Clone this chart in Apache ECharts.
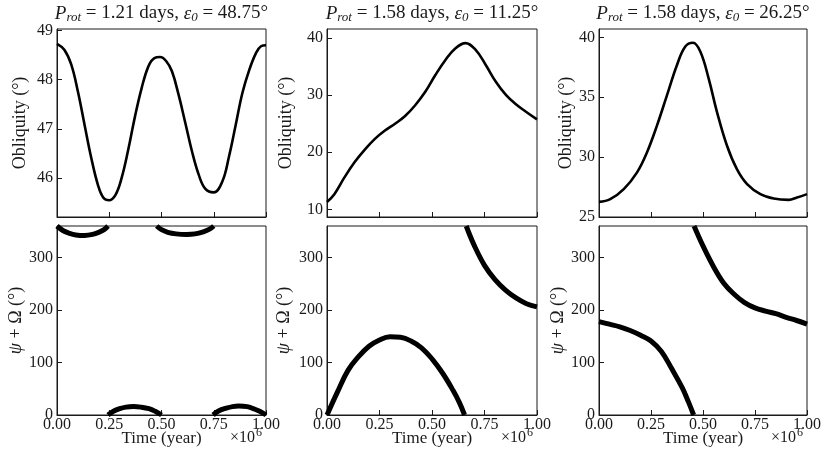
<!DOCTYPE html>
<html>
<head>
<meta charset="utf-8">
<script src="https://cdn.jsdelivr.net/npm/echarts@6/dist/echarts.min.js"></script>
<style>
  html, body { margin: 0; padding: 0; background: #fff; }
  #main { width: 830px; height: 466px; }
</style>
</head>
<body>
<div id="main"></div>
<script>
// time in units of 1e6 years
var timeTicks = [0, 0.25, 0.5, 0.75, 1];

// column titles
var titles = [
  '{i|P}{s|rot}{n| = 1.21 days, }{i|ε}{s|0}{n| = 48.75°}',
  '{i|P}{s|rot}{n| = 1.58 days, }{i|ε}{s|0}{n| = 11.25°}',
  '{i|P}{s|rot}{n| = 1.58 days, }{i|ε}{s|0}{n| = 26.25°}'
];

// obliquity (deg)
var obl1 = [[0,48.73],[0.035,48.61],[0.068,48.31],[0.1,47.76],[0.132,47.08],[0.164,46.41],[0.196,45.86],
  [0.222,45.6],[0.249,45.55],[0.28,45.66],[0.309,46.0],[0.341,46.58],[0.373,47.25],[0.405,47.83],
  [0.437,48.27],[0.466,48.44],[0.493,48.46],[0.522,48.38],[0.55,48.17],[0.582,47.69],[0.614,47.12],
  [0.646,46.54],[0.678,46.07],[0.71,45.78],[0.75,45.71],[0.791,45.93],[0.823,46.44],[0.855,47.08],
  [0.887,47.73],[0.92,48.2],[0.952,48.54],[0.976,48.68],[1,48.7]];
var obl2 = [[0,11.29],[0.035,12.65],[0.083,15.59],[0.131,18.24],[0.18,20.47],[0.228,22.35],[0.276,23.82],
  [0.324,25.0],[0.372,26.35],[0.42,28.24],[0.468,30.59],[0.516,33.53],[0.564,36.18],[0.612,38.24],
  [0.66,39.12],[0.708,37.94],[0.756,35.29],[0.804,32.35],[0.853,30.0],[0.901,28.35],[0.949,27.06],[1,25.76]];
var obl3 = [[0,26.26],[0.054,26.49],[0.119,27.33],[0.183,28.73],[0.231,30.41],[0.279,32.65],[0.327,35.18],
  [0.375,37.7],[0.415,39.24],[0.452,39.55],[0.487,38.82],[0.527,36.58],[0.567,33.78],[0.615,30.97],
  [0.663,29.0],[0.712,27.75],[0.776,26.91],[0.84,26.54],[0.912,26.43],[0.952,26.63],[1,26.91]];

// psi + Omega (deg), wrapped into 0..360, one array per visible branch
var psi1a = [[0,360],[0.03,351],[0.06,346],[0.09,343],[0.132,342],[0.17,344],[0.2,348],[0.225,353],[0.244,360]];
var psi1b = [[0.244,0],[0.27,7],[0.3,12],[0.33,15],[0.366,16],[0.4,15],[0.44,12],[0.47,7],[0.5,0]];
var psi1c = [[0.477,360],[0.5,353],[0.53,348],[0.57,345],[0.62,344],[0.66,345],[0.7,349],[0.73,354],[0.75,360]];
var psi1d = [[0.747,0],[0.775,8],[0.81,13],[0.84,16],[0.87,17],[0.91,16],[0.94,12],[0.97,7],[1,0]];
var psi2a = [[0,0],[0.05,44],[0.1,85],[0.15,111],[0.2,131],[0.25,143],[0.3,149],[0.35,148],[0.4,141],
  [0.45,128],[0.5,107],[0.55,80],[0.6,47],[0.63,24],[0.655,0]];
var psi2b = [[0.663,360],[0.7,324],[0.75,285],[0.8,258],[0.85,238],[0.9,223],[0.95,212],[1,206]];
var psi3a = [[0,178],[0.05,173],[0.1,168],[0.15,161],[0.2,152],[0.25,141],[0.3,121],[0.35,88],[0.4,52],[0.43,25],[0.455,0]];
var psi3b = [[0.457,360],[0.5,322],[0.55,283],[0.6,251],[0.65,230],[0.7,214],[0.75,204],[0.8,198],[0.85,193],[0.9,186],[0.95,180],[1,173]];

// y tick labels
var oblTicks1 = [46, 47, 48, 49];
var oblTicks2 = [10, 20, 30, 40];
var oblTicks3 = [25, 30, 35, 40];
var psiTicks = [0, 100, 200, 300];

var FONT = '"Liberation Serif", "DejaVu Serif", serif';
var INK = '#1a1a1a';

var cols = [
  { left: 57, width: 209, top: obl1, ylim: [45.21, 49.03], ticks: oblTicks1, psi: [psi1a, psi1b, psi1c, psi1d], gapTop: 28, gapBot: 31 },
  { left: 327, width: 210, top: obl2, ylim: [8.65, 41.6], ticks: oblTicks2, psi: [psi2a, psi2b], gapTop: 32, gapBot: 34 },
  { left: 599, width: 208, top: obl3, ylim: [25, 40.7], ticks: oblTicks3, psi: [psi3a, psi3b], gapTop: 22, gapBot: 28 }
];

var grids = [], xAxes = [], yAxes = [], series = [], titleList = [], graphics = [];

cols.forEach(function (c, k) {
  var gTop = k * 2, gBot = k * 2 + 1;
  grids.push({ left: c.left, width: c.width, top: 29, height: 188, show: true, borderColor: INK, borderWidth: 1 });
  grids.push({ left: c.left, width: c.width, top: 226, height: 189, show: true, borderColor: INK, borderWidth: 1 });

  [gTop, gBot].forEach(function (g) {
    var bottom = g === gBot;
    xAxes.push({
      type: 'value', gridIndex: g, min: 0, max: 1, interval: 0.25,
      axisLine: { lineStyle: { color: INK } },
      axisTick: { inside: true, length: 5, lineStyle: { color: INK } },
      axisLabel: { show: bottom, margin: 2, color: INK, fontFamily: FONT, fontSize: 16,
        formatter: function (v) { return v.toFixed(2); } },
      splitLine: { show: false },
      name: bottom ? 'Time (year)' : '', nameLocation: 'middle', nameGap: 15, nameMoveOverlap: false,
      nameTextStyle: { color: INK, fontFamily: FONT, fontSize: 17 }
    });
  });

  yAxes.push({
    type: 'value', gridIndex: gTop, min: c.ylim[0], max: c.ylim[1],
    axisLine: { lineStyle: { color: INK } },
    axisTick: { inside: true, length: 5, customValues: c.ticks, lineStyle: { color: INK } },
    axisLabel: { customValues: c.ticks, margin: 4, color: INK, fontFamily: FONT, fontSize: 16 },
    splitLine: { show: false },
    name: 'Obliquity (°)', nameLocation: 'middle', nameGap: c.gapTop,
    nameTextStyle: { color: INK, fontFamily: FONT, fontSize: 18 }
  });
  yAxes.push({
    type: 'value', gridIndex: gBot, min: 0, max: 360,
    axisLine: { lineStyle: { color: INK } },
    axisTick: { inside: true, length: 5, customValues: psiTicks, lineStyle: { color: INK } },
    axisLabel: { customValues: psiTicks, margin: 4, color: INK, fontFamily: FONT, fontSize: 16 },
    splitLine: { show: false },
    name: '{i|ψ} + Ω (°)', nameLocation: 'middle', nameGap: c.gapBot,
    nameTextStyle: { color: INK, fontFamily: FONT, fontSize: 18,
      rich: { i: { fontStyle: 'italic', fontFamily: FONT, fontSize: 18, color: INK } } }
  });

  series.push({
    type: 'line', xAxisIndex: gTop, yAxisIndex: gTop, data: c.top, smooth: 0.4,
    showSymbol: false, lineStyle: { color: '#000', width: 2.6, join: 'round' }
  });
  c.psi.forEach(function (seg) {
    series.push({
      type: 'line', xAxisIndex: gBot, yAxisIndex: gBot, data: seg, smooth: 0.4,
      showSymbol: false, lineStyle: { color: '#000', width: 5, join: 'round' }
    });
  });

  titleList.push({
    text: titles[k], left: c.left + c.width / 2 - 5, top: -2, textAlign: 'center',
    textStyle: {
      fontWeight: 'normal',
      rich: {
        i: { fontFamily: FONT, fontStyle: 'italic', fontWeight: 'normal', fontSize: 19, color: INK },
        s: { fontFamily: FONT, fontStyle: 'italic', fontWeight: 'normal', fontSize: 13, color: INK, padding: [8, 0, 0, 0] },
        n: { fontFamily: FONT, fontWeight: 'normal', fontSize: 19, color: INK }
      }
    }
  });

  graphics.push({
    type: 'text', left: c.left + c.width - 36, top: 427,
    style: {
      text: '{a|×10}{b|6}',
      rich: {
        a: { fontFamily: FONT, fontSize: 16, fill: INK },
        b: { fontFamily: FONT, fontSize: 12, fill: INK, padding: [0, 0, 10, 1] }
      }
    }
  });
});

var chart = echarts.init(document.getElementById('main'));
chart.setOption({
  animation: false,
  backgroundColor: '#fff',
  title: titleList,
  grid: grids,
  xAxis: xAxes,
  yAxis: yAxes,
  series: series,
  graphic: graphics
});
</script>
</body>
</html>
